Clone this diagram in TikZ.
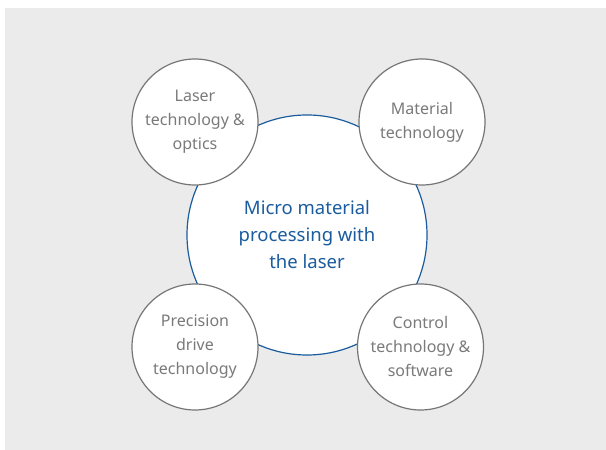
\documentclass[tikz,border=0pt]{standalone}
\usepackage{fontspec}
\setmainfont{Noto Sans}
\definecolor{bg}{HTML}{EBEBEB}
\definecolor{ring}{HTML}{767676}
\definecolor{txt}{HTML}{7A7A7A}
\definecolor{blu}{HTML}{1A5C9E}
\begin{document}
\begin{tikzpicture}[x=1pt,y=1pt,
  topic/.style={circle,draw=ring,line width=1.2pt,fill=white,minimum size=126pt,inner sep=0pt,
    text=txt,align=center,font=\fontsize{16}{24}\selectfont},
  core/.style={circle,draw=blu,line width=1.2pt,fill=white,minimum size=240pt,inner sep=0pt,
    text=blu,align=center,font=\fontsize{18.5}{27}\selectfont}]
\useasboundingbox (0,0) rectangle (606,450);
\fill[bg] (5,0) rectangle (606,442);
\node[core] (c) at (307,215) {Micro material\\processing with\\the laser};
\node[topic] (tl) at (195,328) {Laser\\technology \&\\optics};
\node[topic] (tr) at (422,328) {Material\\technology};
\node[topic] (bl) at (195,103) {Precision\\drive\\technology};
\node[topic] (br) at (420.5,103) {Control\\technology \&\\software};
\end{tikzpicture}
\end{document}
